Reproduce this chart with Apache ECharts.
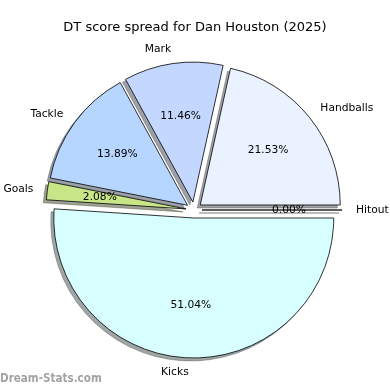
<!DOCTYPE html>
<html>
<head>
<meta charset="utf-8">
<script src="https://cdn.jsdelivr.net/npm/echarts@6/dist/echarts.min.js"></script>
<style>html,body{margin:0;padding:0;background:#fff}#c{width:390px;height:390px}</style>
</head>
<body>
<div id="c"></div>
<script>
const categories = ['Handballs', 'Mark', 'Tackle', 'Goals', 'Kicks', 'Hitout'];
const scores = [62, 33, 40, 6, 147, 0];
const colors = ['#eaf1ff', '#c4d8ff', '#b6d6ff', '#c8e688', '#d8ffff', '#f0f0f0'];
const titleText = 'DT score spread for Dan Houston (2025)';
const watermark = 'Dream-Stats.com';

const R = 140, CX = 194, CY = 210, EXPLODE = 8, SH = 3;
const font = 'DejaVu Sans';

function shadowOf(hex) {
  const n = parseInt(hex.slice(1), 16);
  const r = Math.round(((n >> 16) & 255) * 0.3);
  const g = Math.round(((n >> 8) & 255) * 0.3);
  const b = Math.round((n & 255) * 0.3);
  return 'rgba(' + r + ',' + g + ',' + b + ',0.5)';
}

const chart = echarts.init(document.getElementById('c'), null, {renderer: 'canvas'});
const shadowData = categories.map((n, i) => ({
  name: n, value: scores[i], selected: true,
  itemStyle: {color: shadowOf(colors[i]), borderColor: shadowOf(colors[i]), borderWidth: 0.8}
}));
const mainData = categories.map((n, i) => ({
  name: n, value: scores[i], selected: true,
  itemStyle: {color: colors[i]}
}));
const labelData = categories.map((n, i) => ({name: n, value: scores[i], selected: true}));

const common = {
  type: 'pie', startAngle: 0, clockwise: false,
  selectedMode: 'multiple', selectedOffset: EXPLODE,
  avoidLabelOverlap: false, stillShowZeroSum: true, silent: true,
  emphasis: {disabled: true}
};

chart.setOption({
  animation: false,
  backgroundColor: '#fff',
  title: {
    text: titleText, left: 'center', top: 16,
    textStyle: {fontFamily: font, fontSize: 13, fontWeight: 'normal', color: '#000'}
  },
  graphic: [{
    type: 'text', left: 0, top: 372, scaleX: 0.8,
    style: {text: watermark, font: 'bold 13px ' + font, fill: '#a3a3a3'}
  }],
  series: [Object.assign({}, common, {
    z: 1,
    center: [CX - SH, CY + SH], radius: R,
    label: {show: false}, labelLine: {show: false},
    data: shadowData
  }), Object.assign({}, common, {
    z: 2,
    center: [CX, CY], radius: R,
    itemStyle: {borderColor: '#000', borderWidth: 0.8},
    label: {
      show: true, position: 'outside', formatter: '{b}',
      fontFamily: font, fontSize: 10.7, color: '#000', distanceToLabelLine: 0
    },
    labelLine: {show: false, length: 0.1 * R, length2: 0},
    data: mainData
  }), Object.assign({}, common, {
    z: 3,
    center: [CX, CY], radius: 1.2 * R,
    itemStyle: {color: 'rgba(0,0,0,0)', borderWidth: 0},
    label: {
      show: true, position: 'inside',
      formatter: p => p.percent.toFixed(2) + '%',
      fontFamily: font, fontSize: 10.7, color: '#000'
    },
    labelLine: {show: false},
    data: labelData
  })]
});
</script>
</body>
</html>
